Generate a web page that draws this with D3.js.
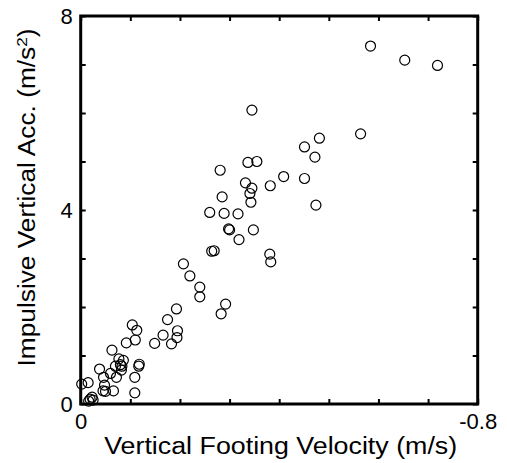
<!DOCTYPE html>
<html>
<head>
<meta charset="utf-8">
<script src="https://cdn.jsdelivr.net/npm/d3@7"></script>
<style>
  body { margin: 0; background: #fff; }
  text { font-family: "Liberation Sans", Arial, sans-serif; fill: #000; }
</style>
</head>
<body>
<svg id="chart" width="507" height="463"></svg>
<script>
// vertical footing velocity (m/s)
const velocity = [
  -0.584, -0.653, -0.719, -0.345, -0.564, -0.481, -0.451, -0.472, -0.337, -0.355,
  -0.281, -0.409, -0.451, -0.332, -0.345, -0.382, -0.341, -0.285, -0.343, -0.474,
  -0.260, -0.289, -0.317, -0.298, -0.300, -0.348, -0.319, -0.264, -0.269, -0.381,
  -0.383, -0.207, -0.220, -0.240, -0.240, -0.292, -0.283, -0.193, -0.175, -0.195,
  -0.194, -0.166, -0.183, -0.149, -0.104, -0.113, -0.110, -0.092, -0.063, -0.077,
  -0.086, -0.080, -0.083, -0.070, -0.082, -0.118, -0.117, -0.038, -0.060, -0.046,
  -0.072, -0.109, -0.048, -0.045, -0.050, -0.066, -0.109, -0.002, -0.015, -0.016,
  -0.019, -0.023, -0.025
];
// impulsive vertical acceleration (m/s^2)
const accel = [
  7.38, 7.09, 6.98, 6.06, 5.57, 5.48, 5.30, 5.09, 4.98, 5.00,
  4.82, 4.69, 4.65, 4.56, 4.45, 4.50, 4.34, 4.27, 4.16, 4.10,
  3.95, 3.93, 3.92, 3.61, 3.59, 3.59, 3.39, 3.15, 3.16, 3.09,
  2.93, 2.89, 2.64, 2.41, 2.21, 2.06, 1.86, 1.96, 1.74, 1.51,
  1.37, 1.42, 1.24, 1.25, 1.63, 1.52, 1.32, 1.26, 1.11, 0.93,
  0.90, 0.81, 0.78, 0.78, 0.70, 0.82, 0.78, 0.72, 0.63, 0.55,
  0.55, 0.55, 0.39, 0.27, 0.26, 0.27, 0.23, 0.41, 0.44, 0.06,
  0.10, 0.14, 0.08
];
const xTicks = d3.range(0, 9).map(i => -i / 10);
const yTicks = d3.range(0, 9);
const xLabels = [0, -0.8];
const yLabels = [0, 4, 8];

const svg = d3.select("#chart");
const plotL = 80.7, plotR = 477.7, plotT = 16, plotB = 404;

const x = d3.scaleLinear().domain([0, -0.8]).range([plotL, plotR]);
const y = d3.scaleLinear().domain([0, 8]).range([plotB, plotT]);

const fmt = d => (d === 0 ? "0" : String(d));

function styleAxis(g) {
  g.select(".domain").remove();
  g.selectAll(".tick line").attr("stroke", "#000").attr("stroke-width", 2);
  g.selectAll(".tick text").attr("font-size", 22).attr("font-family", null).attr("fill", "#000");
}

// ticks point inward on all four sides
svg.append("g").attr("transform", `translate(0,${plotB})`)
  .call(d3.axisBottom(x).tickValues(xTicks).tickSize(-5).tickPadding(9)
    .tickFormat(d => xLabels.some(v => Math.abs(v - d) < 1e-9) ? fmt(d) : ""))
  .call(styleAxis);
svg.append("g").attr("transform", `translate(0,${plotT})`)
  .call(d3.axisTop(x).tickValues(xTicks).tickSize(-5).tickFormat(""))
  .call(styleAxis);
svg.append("g").attr("transform", `translate(${plotL},0)`)
  .call(d3.axisLeft(y).tickValues(yTicks).tickSize(-5).tickPadding(8)
    .tickFormat(d => yLabels.includes(d) ? fmt(d) : ""))
  .call(styleAxis);
svg.append("g").attr("transform", `translate(${plotR},0)`)
  .call(d3.axisRight(y).tickValues(yTicks).tickSize(-5).tickFormat(""))
  .call(styleAxis);

// frame
svg.append("rect")
  .attr("x", plotL).attr("y", plotT)
  .attr("width", plotR - plotL).attr("height", plotB - plotT)
  .attr("fill", "none").attr("stroke", "#000").attr("stroke-width", 3);

// points
const pts = velocity.map((v, i) => ({ v, a: accel[i] }));
svg.append("g").selectAll("circle").data(pts).join("circle")
  .attr("cx", d => x(d.v))
  .attr("cy", d => y(d.a))
  .attr("r", 5)
  .attr("fill", "none")
  .attr("stroke", "#000")
  .attr("stroke-width", 1.2);

// axis titles
svg.append("text")
  .attr("x", 280.7).attr("y", 454)
  .attr("text-anchor", "middle")
  .attr("font-size", 23)
  .attr("textLength", 353).attr("lengthAdjust", "spacingAndGlyphs")
  .text("Vertical Footing Velocity (m/s)");

const yt = svg.append("text")
  .attr("transform", "translate(35,197.5) rotate(-90)")
  .attr("text-anchor", "middle")
  .attr("font-size", 23)
  .attr("textLength", 338).attr("lengthAdjust", "spacingAndGlyphs");
yt.append("tspan").text("Impulsive Vertical Acc. (m/s");
yt.append("tspan").attr("baseline-shift", "super").attr("font-size", 15).text("2");
yt.append("tspan").text(")");
</script>
</body>
</html>
